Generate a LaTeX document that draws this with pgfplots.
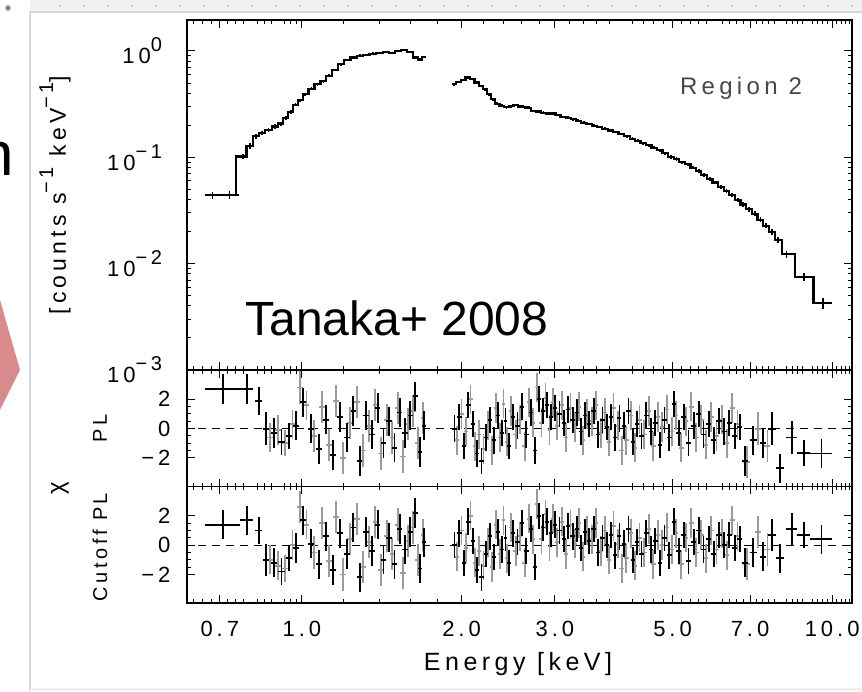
\documentclass[border=0pt]{standalone}
\usepackage{fontspec}
\setmainfont{Liberation Sans}
\newfontfamily\plotfont{Liberation Sans}[LetterSpace=18]
\usepackage{pgfplots}
\usepackage{pgfplotstable}
\pgfplotsset{compat=1.18}
\definecolor{resgray}{HTML}{9A9A9A}
\definecolor{pinkarrow}{HTML}{D98A8C}
\definecolor{framegray}{HTML}{D4D9D9}
\newcommand{\ex}[1]{\raisebox{0.55em}{\fontsize{10}{10}\plotfont #1}}

\pgfplotstableread{
E dE F dF
0.678 0.022 0.0440 0.0035
0.730 0.030 0.0445 0.0035
0.775 0.011 0.102 0.006
0.797 0.011 0.128 0.007
0.818 0.010 0.158 0.008
0.840 0.012 0.170 0.008
0.865 0.013 0.182 0.008
0.890 0.012 0.195 0.009
0.912 0.010 0.208 0.009
0.932 0.010 0.236 0.010
0.952 0.010 0.268 0.010
0.972 0.010 0.312 0.011
0.992 0.010 0.345 0.012
1.015 0.013 0.392 0.013
1.042 0.014 0.440 0.014
1.070 0.014 0.488 0.015
1.098 0.014 0.520 0.016
1.126 0.014 0.585 0.017
1.155 0.015 0.665 0.018
1.186 0.016 0.750 0.020
1.218 0.016 0.818 0.021
1.251 0.017 0.870 0.022
1.286 0.018 0.905 0.022
1.322 0.018 0.920 0.023
1.360 0.020 0.945 0.023
1.400 0.020 0.965 0.024
1.440 0.020 0.980 0.024
1.480 0.020 0.960 0.024
1.520 0.020 1.000 0.025
1.560 0.020 1.015 0.025
1.600 0.020 0.975 0.024
1.638 0.018 0.870 0.022
1.672 0.016 0.830 0.021
1.702 0.014 0.880 0.022
}\specA

\pgfplotstableread{
E dE F dF
1.935 0.020 0.488 0.015
1.975 0.020 0.510 0.015
2.015 0.020 0.534 0.016
2.055 0.020 0.565 0.016
2.095 0.020 0.545 0.016
2.135 0.020 0.505 0.015
2.175 0.020 0.470 0.014
2.215 0.020 0.438 0.013
2.255 0.020 0.392 0.012
2.295 0.020 0.352 0.011
2.335 0.020 0.318 0.010
2.38 0.025 0.305 0.010
2.43 0.025 0.295 0.009
2.48 0.025 0.302 0.009
2.53 0.025 0.310 0.009
2.58 0.025 0.300 0.009
2.63 0.025 0.296 0.009
2.68 0.025 0.292 0.009
2.735 0.03 0.272 0.008
2.795 0.03 0.270 0.008
2.855 0.03 0.262 0.008
2.915 0.03 0.258 0.008
2.975 0.03 0.260 0.008
3.04 0.035 0.250 0.007
3.11 0.035 0.240 0.007
3.18 0.035 0.236 0.007
3.25 0.035 0.228 0.007
3.32 0.035 0.220 0.007
3.40 0.04 0.212 0.006
3.48 0.04 0.206 0.006
3.56 0.04 0.198 0.006
3.64 0.04 0.193 0.006
3.73 0.045 0.186 0.006
3.82 0.045 0.179 0.005
3.91 0.045 0.173 0.005
4.00 0.045 0.166 0.005
4.10 0.05 0.158 0.005
4.20 0.05 0.150 0.005
4.30 0.05 0.143 0.005
4.40 0.05 0.136 0.004
4.51 0.055 0.130 0.004
4.62 0.055 0.123 0.004
4.73 0.055 0.117 0.004
4.845 0.06 0.109 0.004
4.965 0.06 0.101 0.004
5.085 0.06 0.096 0.004
5.21 0.065 0.090 0.003
5.34 0.065 0.086 0.003
5.47 0.065 0.080 0.003
5.60 0.065 0.074 0.003
5.735 0.07 0.068 0.003
5.875 0.07 0.063 0.003
6.02 0.075 0.058 0.002
6.17 0.075 0.0525 0.002
6.32 0.075 0.048 0.002
6.475 0.08 0.044 0.002
6.635 0.08 0.0400 0.0018
6.80 0.085 0.0360 0.0017
6.97 0.085 0.0325 0.0016
7.145 0.09 0.0295 0.0015
7.325 0.09 0.0258 0.0014
7.51 0.095 0.0228 0.0013
7.70 0.095 0.0200 0.0012
7.90 0.10 0.0168 0.0011
8.20 0.20 0.0123 0.0009
8.85 0.25 0.0075 0.0007
9.60 0.40 0.00425 0.0005
}\specB

\pgfplotstableread{
E dE pl cut err
0.710 0.055 2.7 1.4 1.0
0.787 0.022 2.7 1.7 1.0
0.829 0.013 1.9 1.0 0.95
0.855 0.012 0.0 -1.0 1.1
0.885 0.012 -0.3 -1.2 1.0
0.915 0.012 -0.9 -1.8 0.9
0.945 0.012 -0.5 -0.9 0.9
0.975 0.012 0.2 -0.2 1.0
1.005 0.013 1.8 1.7 1.0
1.040 0.014 0.0 0.1 1.0
1.075 0.014 -1.4 -1.3 1.0
1.110 0.014 0.6 0.6 1.0
1.145 0.014 -1.8 -1.7 1.0
1.180 0.015 0.8 0.8 1.0
1.215 0.015 -0.6 -0.6 1.0
1.250 0.015 1.2 1.2 1.0
1.285 0.015 -2.2 -2.2 1.0
1.320 0.016 0.9 0.9 1.0
1.355 0.016 -0.4 -0.4 1.0
1.390 0.016 1.4 1.4 1.0
1.425 0.017 -1.0 -1.0 1.0
1.460 0.017 0.5 0.5 1.0
1.495 0.017 -1.3 -1.3 1.0
1.530 0.017 1.1 1.1 1.0
1.565 0.018 -0.3 -0.3 1.0
1.600 0.018 0.9 0.9 1.0
1.635 0.018 2.2 2.2 1.0
1.670 0.018 -1.6 -1.6 1.0
1.700 0.015 0.2 0.2 1.0
1.94 0.02 0.0 0.0 0.9
1.98 0.02 0.8 0.8 0.9
2.02 0.02 -1.2 -1.2 0.9
2.06 0.02 1.6 1.6 0.9
2.10 0.02 0.3 0.3 0.9
2.14 0.02 -1.7 -1.7 0.9
2.18 0.02 -2.2 -2.2 0.9
2.22 0.02 -0.6 -0.6 0.9
2.26 0.02 0.6 0.6 0.9
2.30 0.02 -0.8 -0.8 0.9
2.34 0.02 0.9 0.9 0.9
2.38 0.02 -0.3 -0.3 0.9
2.42 0.02 0.5 0.5 0.9
2.46 0.02 -1.2 -1.2 0.9
2.50 0.025 0.8 0.8 0.9
2.55 0.025 0.2 0.2 0.9
2.60 0.025 1.5 1.5 0.9
2.65 0.025 -0.4 -0.4 0.9
2.70 0.025 1.1 1.1 0.9
2.75 0.025 -1.5 -1.5 0.9
2.80 0.025 2.0 2.0 0.9
2.85 0.025 1.2 1.2 0.9
2.90 0.025 1.6 1.6 0.9
2.95 0.025 0.8 0.8 0.9
3.00 0.03 1.4 1.4 0.9
3.06 0.03 1.0 1.0 0.9
3.12 0.03 0.4 0.4 0.9
3.18 0.03 1.3 1.3 0.9
3.24 0.03 0.6 0.6 0.9
3.30 0.03 1.1 1.1 0.9
3.36 0.03 -0.2 -0.2 0.9
3.42 0.03 0.9 0.9 0.9
3.48 0.03 0.3 0.3 0.9
3.55 0.035 1.2 1.1 0.9
3.62 0.035 -0.4 -0.5 0.9
3.69 0.035 0.6 0.5 0.9
3.76 0.035 0.1 0.0 0.9
3.83 0.035 0.8 0.7 0.9
3.90 0.035 -0.6 -0.7 0.9
3.97 0.035 0.7 0.6 0.9
4.05 0.04 0.2 0.1 0.9
4.13 0.04 1.2 1.1 0.9
4.21 0.04 -0.9 -1.0 0.9
4.29 0.04 0.3 0.2 0.9
4.37 0.04 -0.5 -0.6 0.9
4.46 0.045 0.9 0.8 0.9
4.55 0.045 -0.2 -0.3 0.9
4.64 0.045 0.4 0.3 0.9
4.73 0.045 -1.1 -1.2 0.9
4.83 0.05 0.6 0.5 0.9
4.93 0.05 -0.6 -0.7 0.9
5.03 0.05 1.7 1.6 0.9
5.14 0.055 -0.3 -0.4 0.9
5.25 0.055 0.8 0.7 0.9
5.36 0.055 -1.0 -1.1 0.9
5.48 0.06 0.2 0.2 0.9
5.60 0.06 1.0 1.0 0.9
5.72 0.06 -0.4 -0.3 0.9
5.85 0.065 0.3 0.4 0.9
5.98 0.065 -0.8 -0.6 0.9
6.12 0.07 0.5 0.7 0.9
6.26 0.07 -0.2 0.0 0.9
6.40 0.07 0.4 0.7 0.9
6.55 0.075 -0.5 -0.2 0.9
6.70 0.075 0.1 0.4 0.9
6.85 0.08 -2.2 -1.2 1.0
7.10 0.1 -0.8 -0.5 1.0
7.40 0.1 -1.0 -0.8 1.0
7.70 0.12 0.0 0.7 1.1
7.97 0.15 -2.7 -0.9 1.0
8.40 0.2 -0.6 1.1 1.1
8.85 0.25 -1.65 0.7 0.9
9.55 0.45 -1.7 0.4 1.0
}\resK

\pgfplotstableread{
E dE pl cut err
0.870 0.012 -0.6 -1.0 1.0
0.900 0.012 -0.1 -1.4 1.0
0.930 0.012 -1.0 -1.6 0.9
0.960 0.012 0.3 0.0 1.0
0.990 0.013 2.8 2.6 1.1
1.020 0.013 1.6 1.4 1.0
1.055 0.014 -0.5 -0.5 1.1
1.090 0.014 1.5 1.5 1.1
1.125 0.014 -1.1 -1.1 1.1
1.160 0.015 1.9 1.9 1.1
1.195 0.015 -2.0 -2.0 1.1
1.230 0.015 0.4 0.4 1.1
1.270 0.016 1.8 1.8 1.1
1.305 0.016 -1.5 -1.5 1.1
1.340 0.016 0.2 0.2 1.1
1.375 0.016 1.6 1.6 1.1
1.410 0.017 -1.7 -1.7 1.1
1.445 0.017 0.6 0.6 1.1
1.480 0.017 -0.6 -0.6 1.1
1.515 0.017 1.4 1.4 1.1
1.550 0.018 -1.9 -1.9 1.1
1.585 0.018 0.3 0.3 1.1
1.620 0.018 1.2 1.2 1.1
1.655 0.018 -1.0 -1.0 1.1
1.690 0.016 0.7 0.7 1.1
1.96 0.02 -0.8 -0.8 1.0
2.00 0.02 1.0 1.0 1.0
2.04 0.02 -0.2 -0.2 1.0
2.08 0.02 2.0 2.0 1.0
2.12 0.02 -1.2 -1.2 1.0
2.16 0.02 -0.4 -0.4 1.0
2.20 0.02 -1.4 -1.4 1.0
2.24 0.02 0.2 0.2 1.0
2.28 0.02 -1.5 -1.5 1.0
2.32 0.02 1.4 1.4 1.0
2.36 0.02 -0.6 -0.6 1.0
2.40 0.02 1.7 1.7 1.0
2.44 0.02 -0.9 -0.9 1.0
2.48 0.02 1.2 1.2 1.0
2.53 0.025 -0.4 -0.4 1.0
2.58 0.025 0.6 0.6 1.0
2.63 0.025 -1.2 -1.2 1.0
2.68 0.025 1.8 1.8 1.0
2.73 0.025 0.4 0.4 1.0
2.78 0.025 2.8 2.8 1.0
2.83 0.025 0.4 0.4 1.0
2.88 0.025 2.1 2.1 1.0
2.93 0.025 -0.1 -0.1 1.0
2.98 0.025 1.8 1.8 1.0
3.03 0.03 0.2 0.2 1.0
3.09 0.03 1.6 1.6 1.0
3.15 0.03 -0.6 -0.6 1.0
3.21 0.03 1.4 1.4 1.0
3.27 0.03 0.1 0.1 1.0
3.33 0.03 1.5 1.5 1.0
3.39 0.03 -0.8 -0.8 1.0
3.45 0.03 1.0 1.0 1.0
3.52 0.035 0.5 0.4 1.0
3.59 0.035 1.6 1.5 1.0
3.66 0.035 -0.3 -0.4 1.0
3.73 0.035 1.1 1.0 1.0
3.80 0.035 -0.9 -1.0 1.0
3.87 0.035 1.4 1.3 1.0
3.94 0.035 0.2 0.1 1.0
4.01 0.04 -1.5 -1.6 1.0
4.09 0.04 -0.8 -0.9 1.0
4.17 0.04 0.9 0.8 1.0
4.25 0.04 -1.3 -1.4 1.0
4.33 0.04 0.6 0.5 1.0
4.42 0.045 -0.4 -0.5 1.0
4.51 0.045 1.2 1.1 1.0
4.60 0.045 -1.2 -1.3 1.0
4.69 0.045 0.8 0.7 1.0
4.78 0.05 0.1 0.0 1.0
4.88 0.05 1.3 1.2 1.0
4.98 0.05 -0.2 -0.3 1.0
5.08 0.05 0.9 0.8 1.0
5.19 0.055 -1.3 -1.3 1.0
5.30 0.055 0.5 0.5 1.0
5.42 0.06 1.5 1.5 1.0
5.54 0.06 -0.6 -0.5 1.0
5.66 0.06 0.6 0.7 1.0
5.78 0.06 -1.1 -0.9 1.0
5.91 0.065 0.8 1.0 1.0
6.05 0.07 -0.5 -0.3 1.0
6.19 0.07 0.6 0.8 1.0
6.33 0.07 -1.0 -0.7 1.0
6.48 0.075 1.4 1.7 1.0
6.63 0.075 0.3 0.6 1.0
6.90 0.1 -2.3 -1.3 1.1
7.25 0.1 0.0 0.9 1.1
7.55 0.1 -1.2 -0.3 1.1
}\resG

\pgfplotsset{
  spcommon/.style={
    scale only axis, width=332.5pt,
    xmin=0.607, xmax=10.9,
    axis line style={line width=0.85pt},
    every tick/.style={black, line width=0.5pt},
    major tick length=4pt, minor tick length=2pt,
    xtick={0.7,1,2,3,5,7,10},
    minor xtick={0.625,0.65,0.675,0.725,0.75,0.775,0.825,0.85,0.875,0.925,0.95,0.975,1.2,1.4,1.6,1.8,2.2,2.4,2.6,2.8,3.2,3.4,3.6,3.8,4.2,4.4,4.6,4.8,5.2,5.4,5.6,5.8,6.2,6.4,6.6,6.8,7.2,7.4,7.6,7.8,8.2,8.4,8.6,8.8,9.2,9.4,9.6,9.8,10.2,10.4,10.6,10.8},
    tick label style={font=\fontsize{11}{12}\plotfont},
    /pgf/number format/assume math mode=true,
  },
  errK/.style={draw=none, mark=none, forget plot, error bars/.cd, x dir=both, x explicit, y dir=both, y explicit, error mark=none, error bar style={draw=black, line width=0.9pt}},
  errG/.style={draw=none, mark=none, forget plot, error bars/.cd, x dir=both, x explicit, y dir=both, y explicit, error mark=none, error bar style={draw=resgray, line width=0.9pt}},
  rescommon/.style={anchor=north west, height=58.25pt, ymin=-3.95, ymax=4.0,
    ytick={-2,0,2}, yticklabels={−2,0,2}, minor y tick num=3,
    yticklabel style={xshift=-4.8pt}},
}

\begin{document}
\begin{tikzpicture}
\path[use as bounding box] (0pt,0pt) rectangle (431pt,345.5pt);
% slide decorations
\fill[framegray!35] (15pt,339.5pt) rectangle (431pt,345.5pt);
\draw[framegray, line width=0.6pt] (15pt,0pt) -- (15pt,339.5pt) -- (431pt,339.5pt);
\fill[framegray!35] (15pt,0pt) rectangle (431pt,1.5pt);
\foreach \i in {0,...,33} \fill[black!28] (30pt+\i*12pt, 342.5pt) circle (0.5pt);
\fill[black!45] (4pt,341.5pt) circle (1.4pt);
\node[anchor=base east, inner sep=0pt, font=\fontsize{31}{31}\selectfont] at (7pt,257.5pt) {n};
\fill[pinkarrow] (0pt,195.5pt) -- (10pt,160.5pt) -- (0pt,140.5pt) -- cycle;

% top panel
\begin{axis}[xmode=log, ymode=log, spcommon, at={(93.5pt,335.5pt)}, anchor=north west, height=175pt,
  ymin=1e-3, ymax=1.957,
  ytick={0.001,0.01,0.1,1},
  yticklabels={10\ex{−3},10\ex{−2},10\ex{−1},10\ex{0}},
  minor ytick={0.002,0.003,0.004,0.005,0.006,0.007,0.008,0.009,0.02,0.03,0.04,0.05,0.06,0.07,0.08,0.09,0.2,0.3,0.4,0.5,0.6,0.7,0.8,0.9},
  xticklabels={},
  yticklabel style={xshift=-9pt}]
\addplot[black, line width=1.1pt, const plot mark mid, mark=none] table[x=E,y=F] {\specA};
\addplot[black, line width=1.1pt, const plot mark mid, mark=none] table[x=E,y=F] {\specB};
\addplot[errK] table[x=E,y=F,x error=dE,y error=dF] {\specA};
\addplot[errK] table[x=E,y=F,x error=dE,y error=dF] {\specB};
\end{axis}

% PL residuals
\begin{axis}[xmode=log, spcommon, rescommon, at={(93.5pt,160.5pt)}, xticklabels={}]
\addplot[black, line width=0.6pt, dash pattern=on 4pt off 3pt] coordinates {(0.6,0) (11,0)};
\addplot[errG] table[x=E,y=pl,x error=dE,y error=err] {\resG};
\addplot[errK] table[x=E,y=pl,x error=dE,y error=err] {\resK};
\end{axis}

% Cutoff PL residuals
\begin{axis}[xmode=log, spcommon, rescommon, at={(93.5pt,102.25pt)},
  xticklabels={0.7,1.0,2.0,3.0,5.0,7.0,10.0},
  xticklabel style={yshift=-5.5pt}]
\addplot[black, line width=0.6pt, dash pattern=on 4pt off 3pt] coordinates {(0.6,0) (11,0)};
\addplot[errG] table[x=E,y=cut,x error=dE,y error=err] {\resG};
\addplot[errK] table[x=E,y=cut,x error=dE,y error=err] {\resK};
\end{axis}

% labels
\node[rotate=90, font=\fontsize{11.5}{12}\plotfont] at (27.5pt,248pt) {[counts s\ex{−1} keV\ex{−1}]};
\node[rotate=90, font=\fontsize{10}{11}\plotfont] at (50pt,131.5pt) {PL};
\node[rotate=90, font=\fontsize{10}{11}\plotfont] at (50pt,72pt) {Cutoff PL};
\node[rotate=90, font=\fontsize{12}{12}\plotfont] at (30pt,101.5pt) {χ};
\node[font=\fontsize{12.5}{13}\plotfont] at (259pt,13.5pt) {Energy [keV]};
\node[font=\fontsize{12}{13}\plotfont, text=black!72] at (370.5pt,301.5pt) {Region 2};
\node[anchor=base west, inner sep=0pt, font=\fontsize{24}{24}\selectfont] at (122.5pt,177.5pt) {Tanaka+ 2008};
\end{tikzpicture}
\end{document}
